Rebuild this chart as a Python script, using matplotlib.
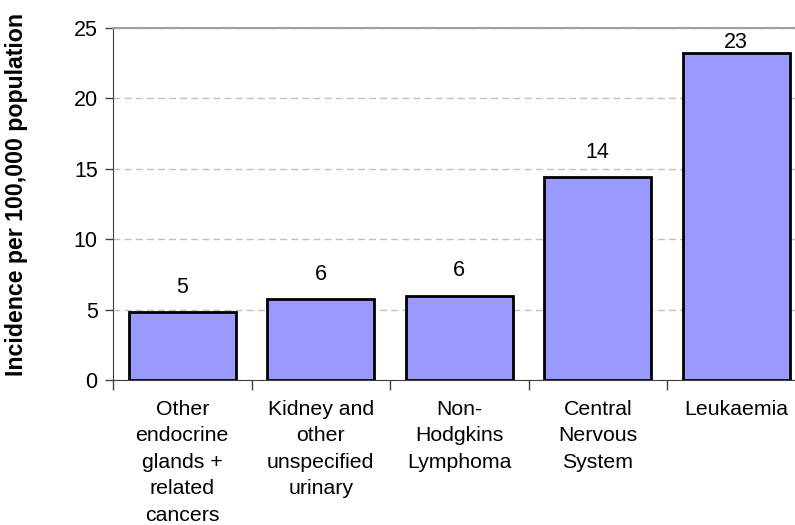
import matplotlib
matplotlib.use("Agg")
import matplotlib.pyplot as plt
import numpy as np

# data
categories = [
    "Other\nendocrine\nglands +\nrelated\ncancers",
    "Kidney and\nother\nunspecified\nurinary",
    "Non-\nHodgkins\nLymphoma",
    "Central\nNervous\nSystem",
    "Leukaemia",
]
incidence = [4.85, 5.75, 6.0, 14.4, 23.25]
value_labels = ["5", "6", "6", "14", "23"]
y_ticks = [0, 5, 10, 15, 20, 25]

plt.rcParams['font.family'] = ['Liberation Sans', 'DejaVu Sans']

fig = plt.figure(figsize=(7.95, 5.25), dpi=100)
# the plot area runs past the right edge of the picture in the original
ax = fig.add_axes([113 / 795, 145 / 525, 692.5 / 795, 352 / 525])

x = np.arange(len(categories))
ax.bar(x, incidence, width=0.77, color='#9999FF', edgecolor='black', linewidth=2, zorder=3)

# value labels sit above the bars, kept inside the plot area at the top
for xi, v, lab in zip(x, incidence, value_labels):
    ax.text(xi, min(v + 1.75, 24.0), lab, ha='center', va='center', fontsize=15.5, zorder=4)

ax.set_xlim(-0.5, len(categories) - 0.5)
ax.set_ylim(0, 25)
ax.set_yticks(y_ticks)
ax.tick_params(axis='y', labelsize=15.5, length=6, width=1, color='#404040', pad=5)

# category labels between boundary ticks
ax.set_xticks(np.arange(len(categories) + 1) - 0.5)
ax.set_xticklabels([])
ax.tick_params(axis='x', length=7, width=1, color='#404040')
for xi, cat in zip(x, categories):
    ax.text(xi, -1.4, cat, ha='center', va='top', fontsize=15.3, linespacing=1.5,
            transform=ax.transData)

ax.yaxis.grid(True, linestyle=(0, (5, 3)), color='#c0c0c0', linewidth=1, zorder=0)
ax.set_axisbelow(True)

ax.spines['left'].set_color('#404040')
ax.spines['bottom'].set_color('#404040')
ax.spines['top'].set_color('#a0a0a0')
ax.spines['top'].set_linewidth(1.5)
ax.spines['right'].set_visible(False)

fig.text(17 / 795, 1 - 194 / 525, 'Incidence per 100,000 population', rotation=90,
         ha='center', va='center', fontsize=16.7, fontweight='bold')

fig.savefig('out.png', dpi=100)
